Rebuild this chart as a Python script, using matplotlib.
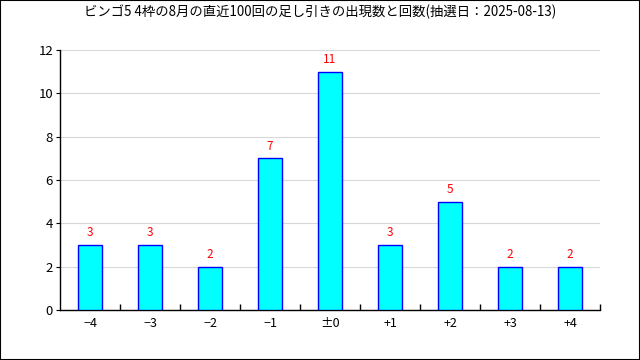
import matplotlib
matplotlib.use("Agg")
import matplotlib.pyplot as plt
from matplotlib.patches import Rectangle

plt.rcParams['font.family'] = ['Noto Sans CJK JP', 'DejaVu Sans']

title = "ビンゴ5 4枠の8月の直近100回の足し引きの出現数と回数(抽選日：2025-08-13)"
categories = ["−4", "−3", "−2", "−1", "±0", "+1", "+2", "+3", "+4"]
counts = [3, 3, 2, 7, 11, 3, 5, 2, 2]

fig = plt.figure(figsize=(6.4, 3.6), dpi=100)
ax = fig.add_axes([60/640, 50/360, 540/640, 260/360])

x = list(range(len(categories)))
bars = ax.bar(x, counts, width=0.4, color="#00ffff", edgecolor="#0000ff", linewidth=1, zorder=3)
for xi, c in zip(x, counts):
    ax.annotate(str(c), (xi, c), xytext=(0, 4), textcoords="offset points",
                ha="center", va="bottom", color="#ff0000", fontsize=8.5)

ax.set_xlim(-0.5, len(categories) - 0.5)
ax.set_ylim(0, 12)
ax.set_yticks(range(0, 13, 2))
ax.set_xticks(x)
ax.set_xticklabels(categories, fontsize=9)
ax.tick_params(axis='x', length=0, pad=5)
ax.set_xticks([i + 0.5 for i in x], minor=True)
ax.tick_params(axis='x', which='minor', direction='in', length=4, width=1)
ax.tick_params(axis='y', direction='out', length=3, labelsize=9.5, pad=2)
ax.grid(axis='y', color="#d8d8d8", linewidth=0.8, zorder=0)
for s in ['top', 'right']:
    ax.spines[s].set_visible(False)
ax.spines['left'].set_linewidth(1)
ax.spines['bottom'].set_linewidth(1)

fig.text(0.5, 1 - 12/360, title, ha="center", va="center", fontsize=9.6)
fig.patches.append(Rectangle((0, 0), 1, 1, transform=fig.transFigure, fill=False,
                             edgecolor="black", linewidth=1.5))

fig.savefig("out.png", dpi=100)
